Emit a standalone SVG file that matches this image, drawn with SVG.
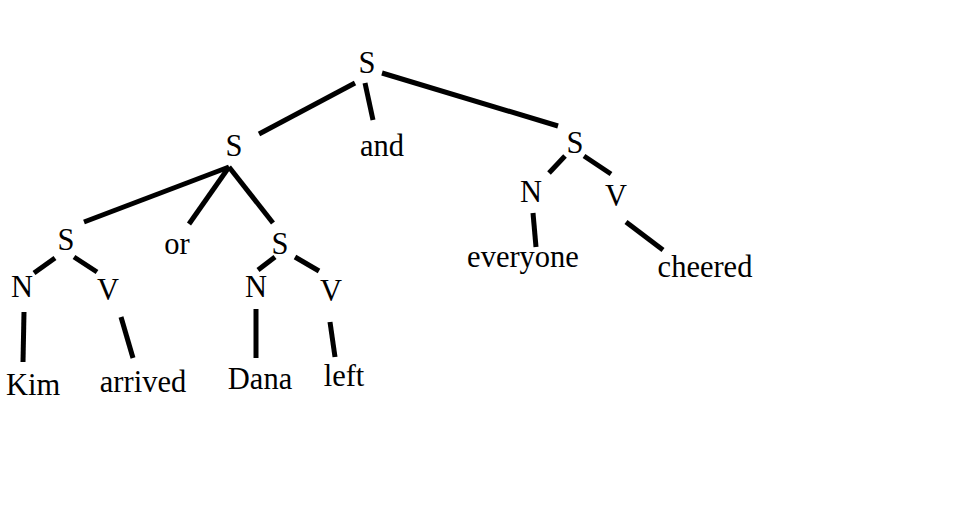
<svg xmlns="http://www.w3.org/2000/svg" width="976" height="511" viewBox="0 0 976 511">
<style>
text{font-family:"Liberation Serif","Times New Roman",serif;font-size:30.5px;fill:#000;text-anchor:middle}
.e line{stroke:#000;stroke-width:5;stroke-linecap:butt}
</style>
<rect width="976" height="511" fill="#fff"/>
<g class="e" id="edges">
<line x1="355" y1="83" x2="259" y2="134"/>
<line x1="365" y1="83" x2="373" y2="120"/>
<line x1="382" y1="73" x2="558" y2="126"/>
<line x1="229" y1="167" x2="84" y2="222"/>
<line x1="229" y1="167" x2="189" y2="224"/>
<line x1="229" y1="167" x2="273" y2="223"/>
<line x1="55" y1="258" x2="34" y2="273"/>
<line x1="74" y1="257" x2="97" y2="272"/>
<line x1="24" y1="312" x2="23" y2="362"/>
<line x1="121" y1="317" x2="133" y2="358"/>
<line x1="275" y1="257" x2="258" y2="270"/>
<line x1="295" y1="257" x2="319" y2="271"/>
<line x1="256" y1="309" x2="256" y2="358"/>
<line x1="330" y1="322" x2="335" y2="357"/>
<line x1="565" y1="156" x2="549" y2="173"/>
<line x1="584" y1="156" x2="611" y2="174"/>
<line x1="533" y1="213" x2="536" y2="247"/>
<line x1="626" y1="222" x2="663" y2="250"/>
</g>
<g id="n-s-top"><text x="367" y="73">S</text></g>
<g id="n-s-left"><text x="234" y="156">S</text></g>
<g id="n-and"><text x="382" y="156">and</text></g>
<g id="n-s-right"><text x="575" y="153">S</text></g>
<g id="n-s-ll"><text x="66" y="250">S</text></g>
<g id="n-or"><text x="177" y="254">or</text></g>
<g id="n-s-lr"><text x="280" y="254">S</text></g>
<g id="n-n1"><text x="22" y="297">N</text></g>
<g id="n-v1"><text x="108" y="300">V</text></g>
<g id="n-n2"><text x="256" y="297">N</text></g>
<g id="n-v2"><text x="331" y="301">V</text></g>
<g id="n-n3"><text x="531" y="202">N</text></g>
<g id="n-v3"><text x="616" y="206">V</text></g>
<g id="n-kim"><text x="33" y="395">Kim</text></g>
<g id="n-arrived"><text x="143" y="392">arrived</text></g>
<g id="n-dana"><text x="260" y="389">Dana</text></g>
<g id="n-left"><text x="344" y="386">left</text></g>
<g id="n-everyone"><text x="523" y="267">everyone</text></g>
<g id="n-cheered"><text x="705" y="277">cheered</text></g>
</svg>
